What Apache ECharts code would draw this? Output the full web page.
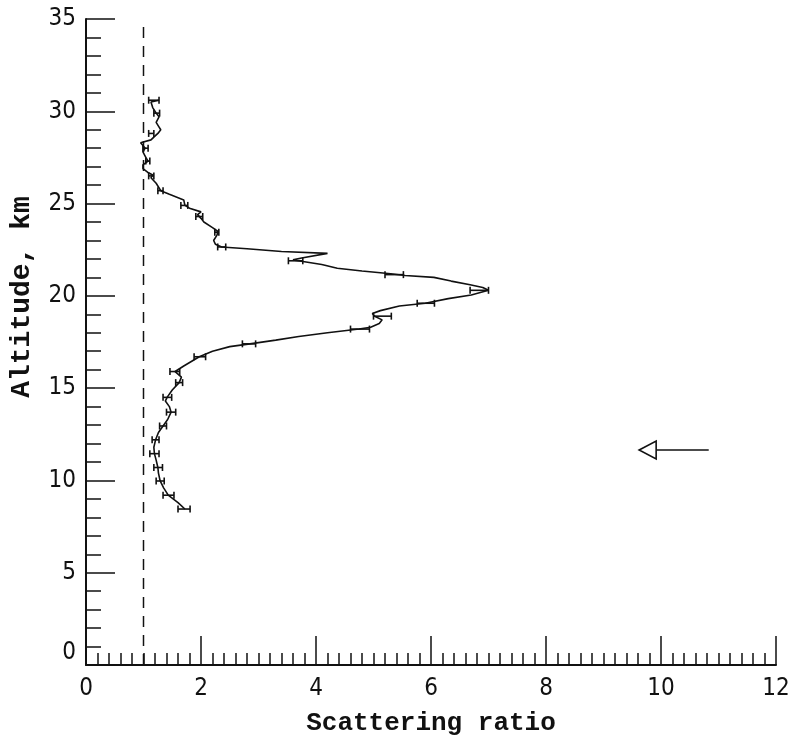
<!DOCTYPE html>
<html>
<head>
<meta charset="utf-8">
<script src="https://cdn.jsdelivr.net/npm/echarts@6/dist/echarts.min.js"></script>
<style>
  html, body { margin: 0; padding: 0; background: #fff; }
  #chart { width: 794px; height: 741px; }
</style>
</head>
<body>
<div id="chart"></div>
<script>
// lidar profile
const altitude = [8.45, 8.8, 9.2, 9.6, 9.97, 10.4, 10.7, 11.1, 11.45, 11.8, 12.2, 12.6, 12.95, 13.3, 13.7, 14.0, 14.3, 14.5,
  14.9, 15.3, 15.6, 15.9, 16.2, 16.7, 17.0, 17.25, 17.4, 17.6, 17.8, 18.0, 18.2, 18.3, 18.5, 18.7, 18.9, 19.05, 19.2,
  19.45, 19.6, 19.85, 20.05, 20.3, 20.45, 20.6, 20.8, 21.0, 21.1, 21.2, 21.35, 21.5, 21.7, 21.85, 21.95, 22.05, 22.3,
  22.4, 22.55, 22.65, 22.8, 23.0, 23.3, 23.5, 23.7, 24.0, 24.2, 24.4, 24.55, 24.75, 24.9, 25.2, 25.5, 25.7, 26.1,
  26.4, 26.55, 26.7, 26.9, 27.1, 27.3, 27.5, 27.8, 28.0, 28.3, 28.45, 28.6, 28.8, 29.0, 29.2, 29.4, 29.7, 29.9,
  30.2, 30.5, 30.6]
const ratio = [1.72, 1.6, 1.43, 1.35, 1.29, 1.26, 1.25, 1.22, 1.19, 1.18, 1.21, 1.26, 1.34, 1.42, 1.48, 1.45, 1.38, 1.41,
  1.5, 1.62, 1.66, 1.55, 1.7, 1.97, 2.2, 2.5, 2.85, 3.3, 3.7, 4.2, 4.75, 4.95, 5.1, 5.15, 5.02, 4.98, 5.12,
  5.45, 5.9, 6.3, 6.7, 7.0, 6.9, 6.68, 6.35, 6.05, 5.55, 5.3, 4.8, 4.37, 4.1, 3.8, 3.6, 3.75, 4.2,
  3.4, 2.8, 2.36, 2.25, 2.22, 2.28, 2.29, 2.2, 2.05, 2.0, 1.94, 2.0, 1.8, 1.72, 1.7, 1.45, 1.3, 1.22,
  1.13, 1.16, 1.07, 0.99, 0.99, 1.08, 1.04, 0.99, 1.03, 0.95, 1.13, 1.18, 1.25, 1.3, 1.26, 1.22, 1.27, 1.22,
  1.16, 1.13, 1.27]

// error bars: altitude, low and high ratio
const errAltitude = [8.45, 9.2, 9.97, 10.7, 11.45, 12.2, 12.95, 13.7, 14.5, 15.3, 15.9, 16.7, 17.4, 18.2, 18.9, 19.6,
  20.3, 21.15, 21.9, 22.65, 23.45, 24.3, 24.9, 25.7, 26.5, 27.3, 28.0, 28.8, 29.9, 30.6]
const errLow = [1.6, 1.34, 1.22, 1.18, 1.11, 1.15, 1.28, 1.4, 1.34, 1.56, 1.46, 1.88, 2.72, 4.6, 5.0, 5.76,
  6.68, 5.2, 3.52, 2.29, 2.24, 1.91, 1.65, 1.25, 1.09, 1.04, 0.99, 1.09, 1.18, 1.09]
const errHigh = [1.81, 1.53, 1.36, 1.33, 1.27, 1.27, 1.4, 1.56, 1.49, 1.68, 1.63, 2.08, 2.95, 4.93, 5.31, 6.06,
  7.0, 5.52, 3.77, 2.43, 2.31, 2.03, 1.77, 1.34, 1.18, 1.11, 1.08, 1.18, 1.28, 1.27]

const refRatio = 1
const altRange = [0, 35]
const ratioRange = [0, 12]

// arrow marking the tropopause
const arrowAltitude = 11.65
const arrowFrom = 10.83
const arrowTo = 9.62

const labelFont = "'Liberation Sans Narrow', 'DejaVu Sans Condensed', 'Roboto Condensed', sans-serif"
const nameFont = "'Liberation Mono', 'DejaVu Sans Mono', monospace"
const ink = '#111'

const chart = echarts.init(document.getElementById('chart'))

chart.setOption({
  backgroundColor: '#fff',
  animation: false,
  grid: { left: 85, right: 18, top: 19, bottom: 76 },
  xAxis: {
    type: 'value',
    min: ratioRange[0],
    max: ratioRange[1],
    interval: 2,
    name: 'Scattering ratio',
    nameLocation: 'middle',
    nameGap: 45,
    nameTextStyle: { fontFamily: nameFont, fontSize: 26, fontWeight: 'bold', color: ink },
    axisLine: { lineStyle: { color: ink, width: 2 } },
    axisTick: { inside: true, length: 29, lineStyle: { color: ink, width: 1.5 } },
    minorTick: { show: true, splitNumber: 10, length: 12, lineStyle: { color: ink, width: 1.5 } },
    axisLabel: { margin: 12, fontFamily: labelFont, fontSize: 24, color: ink },
    splitLine: { show: false }
  },
  yAxis: {
    type: 'value',
    min: altRange[0],
    max: altRange[1],
    interval: 5,
    name: 'Altitude, km',
    nameLocation: 'middle',
    nameGap: 50,
    nameTextStyle: { fontFamily: nameFont, fontSize: 28, fontWeight: 'bold', color: ink, padding: [0, 0, 0, 90] },
    axisLine: { show: true, lineStyle: { color: ink, width: 2 } },
    axisTick: { inside: true, length: 29, lineStyle: { color: ink, width: 1.5 } },
    minorTick: { show: true, splitNumber: 5, length: 15, lineStyle: { color: ink, width: 1.5 } },
    axisLabel: { margin: 10, fontFamily: labelFont, fontSize: 24, color: ink, verticalAlignMinLabel: 'bottom' },
    splitLine: { show: false }
  },
  series: [
    {
      type: 'line',
      data: altRange.map(a => [refRatio, a]),
      showSymbol: false,
      lineStyle: { color: ink, width: 1.5, type: [11, 8] },
      silent: true
    },
    {
      type: 'line',
      data: altitude.map((a, i) => [ratio[i], a]),
      showSymbol: false,
      lineStyle: { color: ink, width: 1.6 },
      silent: true
    },
    {
      type: 'custom',
      data: errAltitude.map((a, i) => [errLow[i], errHigh[i], a]),
      renderItem: function (params, api) {
        const p1 = api.coord([api.value(0), api.value(2)])
        const p2 = api.coord([api.value(1), api.value(2)])
        const st = { stroke: ink, lineWidth: 1.6 }
        return {
          type: 'group',
          children: [
            { type: 'line', shape: { x1: p1[0], y1: p1[1], x2: p2[0], y2: p2[1] }, style: st },
            { type: 'line', shape: { x1: p1[0], y1: p1[1] - 3.5, x2: p1[0], y2: p1[1] + 3.5 }, style: st },
            { type: 'line', shape: { x1: p2[0], y1: p2[1] - 3.5, x2: p2[0], y2: p2[1] + 3.5 }, style: st }
          ]
        }
      },
      silent: true
    },
    {
      type: 'custom',
      data: [[arrowFrom, arrowTo, arrowAltitude]],
      renderItem: function (params, api) {
        const tail = api.coord([api.value(0), api.value(2)])
        const tip = api.coord([api.value(1), api.value(2)])
        const st = { stroke: ink, lineWidth: 1.6, fill: null }
        return {
          type: 'group',
          children: [
            { type: 'line', shape: { x1: tip[0] + 17, y1: tail[1], x2: tail[0], y2: tail[1] }, style: st },
            {
              type: 'polygon',
              shape: { points: [[tip[0], tip[1]], [tip[0] + 17, tip[1] - 9], [tip[0] + 17, tip[1] + 9]] },
              style: st
            }
          ]
        }
      },
      silent: true
    }
  ]
})
</script>
</body>
</html>
